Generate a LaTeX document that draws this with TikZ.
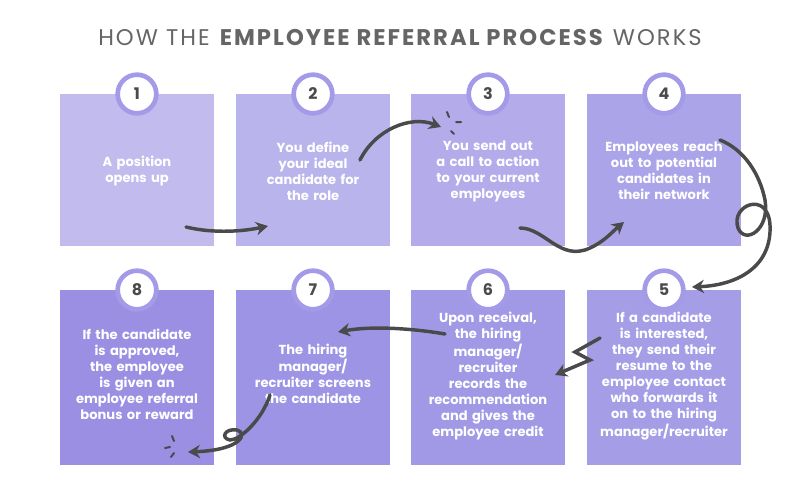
\documentclass[tikz,border=0pt]{standalone}
\usepackage{fontspec}
\setmainfont{Poppins}
\newfontfamily\titlefont[LetterSpace=9]{Poppins}
\usetikzlibrary{arrows.meta}
\definecolor{bA}{HTML}{C2BCEE}
\definecolor{bB}{HTML}{BAB4EC}
\definecolor{bC}{HTML}{B3ABEA}
\definecolor{bD}{HTML}{ACA4E9}
\definecolor{bE}{HTML}{A69DE7}
\definecolor{bF}{HTML}{A299E6}
\definecolor{bG}{HTML}{9E94E5}
\definecolor{bH}{HTML}{9A8FE3}
\definecolor{ring}{HTML}{A49BE8}
\definecolor{ink}{HTML}{4A4A4A}
\begin{document}
\begin{tikzpicture}[x=0.75pt,y=-0.75pt,
  box/.style={minimum width=115.5pt,minimum height=114pt,inner sep=0pt,anchor=north west},
  lbox/.style={box,minimum height=131pt},
  txt/.style={text=white,font=\fontsize{9.8}{12}\selectfont\bfseries,align=center,text width=100pt},
  num/.style={circle,draw=ring,line width=3.5pt,fill=white,minimum size=29pt,inner sep=0pt,font=\fontsize{12}{12}\selectfont\bfseries,text=ink},
  arr/.style={draw=ink,line width=2.6pt,line cap=round,-{Stealth[length=9pt,width=10pt]}},
  spk/.style={draw=ink,line width=1.5pt,line cap=round}]
\useasboundingbox (0,0) rectangle (800,500);
\node[font=\titlefont\fontsize{17}{17}\selectfont,text=ink!85] (title) at (400,38) {HOW THE \textbf{EMPLOYEE REFERRAL PROCESS} WORKS};
% boxes
\node[box,fill=bA] (b1) at (60,94) {};
\node[box,fill=bB] (b2) at (236,94) {};
\node[box,fill=bC] (b3) at (411,94) {};
\node[box,fill=bD] (b4) at (587,94) {};
\node[lbox,fill=bH] (b8) at (60,290) {};
\node[lbox,fill=bG] (b7) at (236,290) {};
\node[lbox,fill=bF] (b6) at (411,290) {};
\node[lbox,fill=bE] (b5) at (587,290) {};
% texts
\node[txt] (t1) at (137,171) {A position\\opens up};
\node[txt] (t2) at (313,171) {You define\\your ideal\\candidate for\\the role};
\node[txt] (t3) at (488,171) {You send out\\a call to action\\to your current\\employees};
\node[txt] (t4) at (664,171) {Employees reach\\out to potential\\candidates in\\their network};
\node[txt] (t8) at (137,374) {If the candidate\\is approved,\\the employee\\is given an\\employee referral\\bonus or reward};
\node[txt] (t7) at (313,374) {The hiring\\manager/\\recruiter screens\\the candidate};
\node[txt] (t6) at (488,376) {Upon receival,\\the hiring\\manager/\\recruiter\\records the\\recommendation\\and gives the\\employee credit};
\node[txt] (t5) at (664,376) {If a candidate\\is interested,\\they send their\\resume to the\\employee contact\\who forwards it\\on to the hiring\\manager/recruiter};
% numbers
\node[num] (n1) at (137,94) {1};
\node[num] (n2) at (313,94) {2};
\node[num] (n3) at (488,94) {3};
\node[num] (n4) at (664,94) {4};
\node[num] (n5) at (664,290) {5};
\node[num] (n6) at (488,290) {6};
\node[num] (n7) at (313,290) {7};
\node[num] (n8) at (137,290) {8};
% connectors
\coordinate (a1s) at (186,227); \coordinate (a1e) at (268,226);
\draw[arr] (a1s) .. controls (215,234) and (245,231) .. (a1e);
\coordinate (a2s) at (360,160); \coordinate (a2e) at (441,127);
\draw[arr] (a2s) .. controls (375,130) and (410,115) .. (a2e);
\draw[spk] (447,112)--(449,117) (456,122)--(461,122) (451,131)--(454,134);
\coordinate (a3s) at (520,228); \coordinate (a3e) at (624,222);
\draw[arr] (a3s) .. controls (545,228) and (560,262) .. (590,248) .. controls (605,241) and (612,232) .. (a3e);
\coordinate (a4s) at (720,140); \coordinate (a4e) at (692,287);
\draw[arr] (a4s) .. controls (745,150) and (760,175) .. (765,200) .. controls (770,230) and (745,245) .. (738,228) .. controls (730,205) and (768,190) .. (770,225) .. controls (772,265) and (740,285) .. (a4e);
\coordinate (a5s) at (600,338); \coordinate (a5e) at (555,375);
\draw[arr] (a5s) -- (575,352) -- (590,360) -- (a5e);
\coordinate (a6s) at (445,334); \coordinate (a6e) at (338,332);
\draw[arr] (a6s) .. controls (410,328) and (370,326) .. (a6e);
\coordinate (a7s) at (270,395); \coordinate (a7e) at (188,452);
\draw[arr] (a7s) .. controls (262,420) and (240,440) .. (230,440) .. controls (220,438) and (225,428) .. (237,430) .. controls (248,433) and (242,450) .. (a7e);
\draw[spk] (172,436)--(174,441) (170,447)--(165,448) (174,453)--(171,457);
\end{tikzpicture}
\end{document}
